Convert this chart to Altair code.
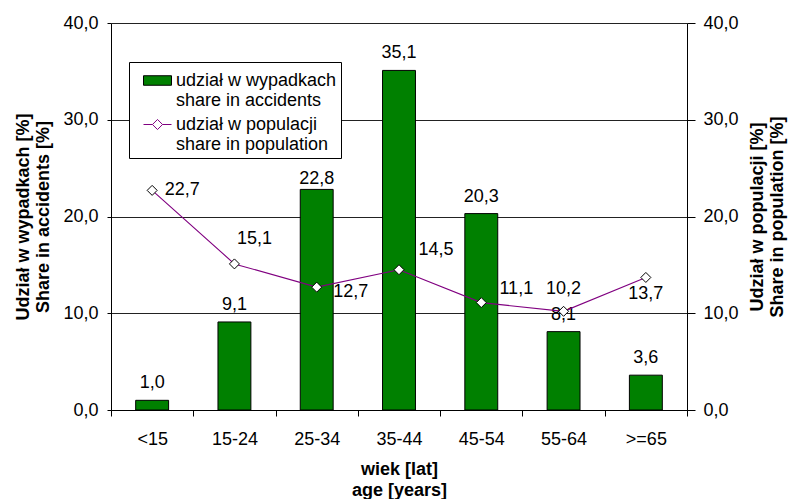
import altair as alt
import pandas as pd

# Age groups and shares (%)
age_groups = ["<15", "15-24", "25-34", "35-44", "45-54", "55-64", ">=65"]
share_accidents = [1.0, 9.1, 22.8, 35.1, 20.3, 8.1, 3.6]
share_population = [22.7, 15.1, 12.7, 14.5, 11.1, 10.2, 13.7]

# Legend entries (two-line labels)
series_keys = ["acc", "pop"]
legend_text = {
    "acc": ["udział w wypadkach", "share in accidents"],
    "pop": ["udział w populacji", "share in population"],
}

FONT = "Liberation Sans"
GREEN = "#008000"
PURPLE = "#800080"
FS = 18

df = pd.DataFrame({
    "age": age_groups,
    "acc": share_accidents,
    "pop": share_population,
})
legend_df = pd.DataFrame({"series": series_keys})


def comma(field):
    return f"replace(format(datum.{field}, '.1f'), '.', ',')"


TICK_EXPR = "replace(format(datum.value, '.1f'), '.', ',')"

x_enc = alt.X(
    "age:N",
    sort=age_groups,
    scale=alt.Scale(paddingInner=0, paddingOuter=0),
    axis=alt.Axis(
        title=["wiek [lat]", "age [years]"],
        labelAngle=0,
        tickBand="extent",
        tickSize=6,
        labelPadding=14,
        titleY=50,
        titleBaseline="top",
        titleLineHeight=21,
    ),
)

y_left = alt.Y(
    "acc:Q",
    scale=alt.Scale(domain=[0, 40], nice=False),
    axis=alt.Axis(
        values=[0, 10, 20, 30, 40],
        labelExpr=TICK_EXPR,
        grid=True,
        gridColor="#222",
        tickSize=4,
        labelPadding=9,
        title=["Udział w wypadkach [%]", "Share in accidents [%]"],
        titleX=-88,
        titleBaseline="middle",
        titleLineHeight=20,
    ),
)

y_right = alt.Y(
    "pop:Q",
    scale=alt.Scale(domain=[0, 40], nice=False),
    axis=alt.Axis(
        orient="right",
        values=[0, 10, 20, 30, 40],
        labelExpr=TICK_EXPR,
        grid=False,
        tickSize=8,
        labelPadding=8,
        title=["Udział w populacji [%]", "Share in population [%]"],
        titleAngle=270,
        titleX=70,
        titleBaseline="middle",
        titleLineHeight=20,
    ),
)

label_expr = (
    f"datum.value === 'acc' ? {legend_text['acc']} : {legend_text['pop']}"
)
# legend glyphs: a filled bar swatch and a line with a diamond marker
RECT_PATH = "M-1,-0.34H1V0.34H-1Z"
LINE_DIAMOND_PATH = "M-1,0H-0.36M0.36,0H1M-0.36,0L0,-0.36L0.36,0L0,0.36Z"

legend = alt.Legend(
    title=None,
    orient="none",
    legendX=18,
    legendY=39,
    fillColor="white",
    strokeColor="black",
    padding=4,
    symbolOffset=10,
    symbolSize=784,
    symbolStrokeWidth=1,
    labelOffset=4,
    labelFontSize=FS,
    labelFont=FONT,
    labelColor="black",
    labelLimit=300,
    labelExpr=label_expr,
    rowPadding=0,
)

base = alt.Chart(df)

bars = base.mark_bar(
    width=alt.RelativeBandSize(0.4), fill=GREEN, stroke="black", strokeWidth=1
).encode(x=x_enc, y=y_left)

# bar value labels; one group sits closer to its bar
bar_label_nudge = {"25-34": -10}
bar_labels = []
default_groups = [g for g in age_groups if g not in bar_label_nudge]
bar_labels.append(
    base.transform_filter(alt.FieldOneOfPredicate(field="age", oneOf=default_groups))
    .transform_calculate(lbl=comma("acc"))
    .mark_text(baseline="middle", align="center", dy=-17, fontSize=FS, font=FONT, color="black")
    .encode(x=x_enc, y=y_left, text="lbl:N")
)
for g, dy in bar_label_nudge.items():
    bar_labels.append(
        base.transform_filter(alt.datum.age == g)
        .transform_calculate(lbl=comma("acc"))
        .mark_text(baseline="middle", align="center", dy=dy, fontSize=FS, font=FONT, color="black")
        .encode(x=x_enc, y=y_left, text="lbl:N")
    )

left = alt.layer(bars, *bar_labels)

line = base.mark_line(color=PURPLE, strokeWidth=1.1).encode(x=x_enc, y=y_right)
points = base.mark_point(
    shape="diamond", size=100, filled=True, fill="white", stroke="black", strokeWidth=1, opacity=1
).encode(x=x_enc, y=y_right)

# pixel nudges for the population value labels
pop_label_nudge = {
    "<15": (30, 0),
    "15-24": (20, -25),
    "25-34": (34, 5),
    "35-44": (37, -20),
    "45-54": (35, -14),
    "55-64": (0, -22),
    ">=65": (0, 17),
}
pop_labels = [
    base.transform_filter(alt.datum.age == g)
    .transform_calculate(lbl=comma("pop"))
    .mark_text(baseline="middle", align="center", dx=dx, dy=dy, fontSize=FS, font=FONT, color="black")
    .encode(x=x_enc, y=y_right, text="lbl:N")
    for g, (dx, dy) in pop_label_nudge.items()
]

# clipped carrier layer whose only visible output is the legend
legend_layer = alt.Chart(legend_df).mark_point(
    filled=True, size=784, strokeWidth=1, opacity=1, clip=True
).encode(
    x=alt.value(-200),
    y=alt.value(-200),
    shape=alt.Shape("series:N", scale=alt.Scale(domain=series_keys, range=[RECT_PATH, LINE_DIAMOND_PATH]), legend=legend),
    fill=alt.Fill("series:N", scale=alt.Scale(domain=series_keys, range=[GREEN, "white"]), legend=legend),
    stroke=alt.Stroke("series:N", scale=alt.Scale(domain=series_keys, range=["black", PURPLE]), legend=legend),
)

right = alt.layer(line, points, *pop_labels)

chart = (
    alt.layer(left, right, legend_layer)
    .resolve_scale(y="independent")
    .properties(
        width=576,
        height=387,
        autosize=alt.AutoSizeParams(type="none"),
        padding={"left": 111, "top": 23, "right": 103, "bottom": 89},
        background="white",
    )
    .configure_view(stroke=None)
    .configure_axis(
        labelFont=FONT,
        labelFontSize=FS,
        labelColor="black",
        titleFont=FONT,
        titleFontSize=FS,
        titleFontWeight="bold",
        titleColor="black",
        domainColor="black",
        tickColor="black",
        domainWidth=1,
    )
)

chart.save("out.html", embed_options={"renderer": "svg", "actions": False})
